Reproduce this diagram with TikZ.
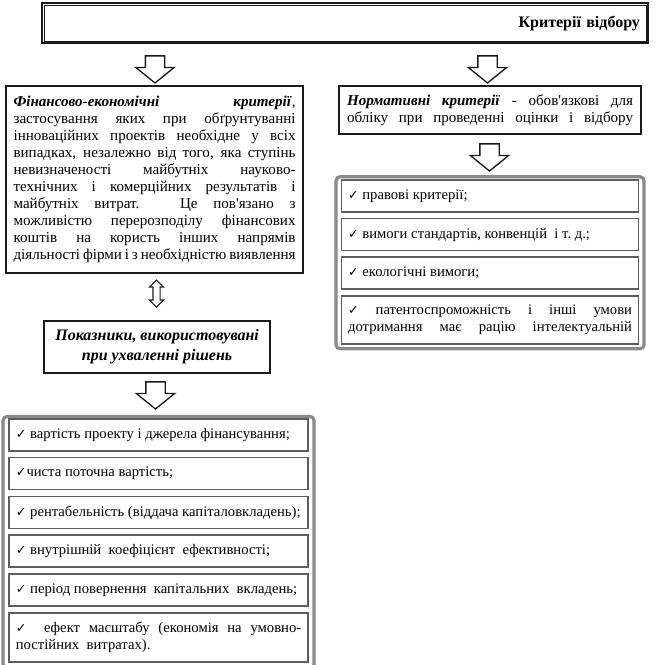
\documentclass[tikz,border=0pt]{standalone}
\usepackage{fontspec}
\setmainfont{Liberation Serif}
\newfontfamily\symfont{DejaVu Sans}
\usepackage{tikz}
\usetikzlibrary{positioning,shapes.arrows,calc}
\definecolor{Ink}{HTML}{1A1A1A}
\definecolor{Dots}{HTML}{8A8A8A}
\definecolor{Edge}{HTML}{5E5E5E}
\newcommand{\chkmark}{{\symfont\fontsize{9.5}{9.5}\selectfont ✓}}
\newcommand{\apos}{\textquotesingle}

\begin{document}
\begin{tikzpicture}[
  x=0.75pt,y=-0.75pt,
  every node/.style={font=\fontsize{11.3}{12.75}\selectfont},
  head/.style={draw=Ink,line width=1.5pt,minimum width=454.5pt,minimum height=30pt,text width=442.5pt,inner xsep=6pt,align=right,font=\fontsize{12}{14}\selectfont\bfseries},
  crit/.style={draw=Ink,line width=1.6pt,inner sep=0pt,align=justify,anchor=north west,
    execute at begin node={\parfillskip=0pt\tolerance=10000\exhyphenpenalty=10000}},
  note/.style={draw=Ink,line width=1.3pt,minimum width=169.5pt,minimum height=39pt,align=center,font=\fontsize{12}{15}\selectfont\bfseries\itshape},
  panel/.style={draw=Dots,line width=2.4pt,rounded corners=3pt},
  entry/.style={draw=Edge,line width=1.2pt,minimum height=24pt,inner sep=0pt,text width=214pt,align=justify,outer sep=0pt,
    font=\fontsize{11}{12.75}\selectfont,execute at begin node={\tolerance=10000\exhyphenpenalty=10000}},
  fatarrow/.style={single arrow,draw=Ink,fill=white,line width=1pt,shape border rotate=270,inner sep=6.75pt,
    minimum height=18.75pt,minimum width=27.75pt,single arrow head extend=7.1pt,single arrow tip angle=102},
  twoway/.style={double arrow,draw=Ink,fill=white,line width=0.8pt,shape border rotate=90,inner sep=2.25pt,
    minimum height=20.25pt,minimum width=9.75pt,double arrow head extend=2.6pt}
]
\useasboundingbox (0,0) rectangle (657,665);

% title
\node[head] (title) at (345,23) {Критерії відбору};
\draw[line width=0.6pt,draw=Ink] ([shift={(3,3)}]title.north west) rectangle ([shift={(-3,-3)}]title.south east);

% left column
\node[crit,text width=211.5pt,minimum width=222.75pt,minimum height=140.25pt] (fin) at (5,85) {%
\textbf{\textit{Фінансово-економічні критерії}},\linebreak
застосування яких при обґрунтуванні\linebreak
інноваційних проектів необхідне у всіх\linebreak
випадках, незалежно від того, яка ступінь\linebreak
невизначеності майбутніх науково-\linebreak
технічних і комерційних результатів і\linebreak
майбутніх витрат. Це пов\apos язано з\linebreak
можливістю перерозподілу фінансових\linebreak
коштів на користь інших напрямів\linebreak
діяльності фірми і з необхідністю виявлення};
\node[note,below=34.5pt of fin,xshift=1.9pt] (pok) {Показники, використовувані\\при ухваленні рішень};
\node[panel,minimum width=233.25pt,minimum height=189pt,below=30.75pt of pok,xshift=1.1pt] (fislist) {};
\node[entry,minimum width=224.25pt,below=3pt of fislist.north] (f1) {\chkmark\ вартість проекту і джерела фінансування;};
\node[entry,minimum width=224.25pt,below=5.1pt of f1] (f2) {\chkmark чиста поточна вартість;};
\node[entry,minimum width=224.25pt,below=5.1pt of f2] (f3) {\chkmark\ рентабельність (віддача капіталовкладень);};
\node[entry,minimum width=224.25pt,below=5.1pt of f3] (f4) {\chkmark\ внутрішній\ \ коефіцієнт\ \ ефективності;};
\node[entry,minimum width=224.25pt,below=5.1pt of f4] (f5) {\chkmark\ період повернення\ \ капітальних\ \ вкладень;};
\node[entry,minimum width=224.25pt,minimum height=36.75pt,below=5.1pt of f5] (f6) {\chkmark\ \ ефект масштабу (економія на умовно-\linebreak постійних\ \ витратах).};

% right column
\node[crit,text width=214.5pt,minimum width=226.5pt,minimum height=36pt] (norm) at (338,85) {%
\textbf{\textit{Нормативні критерії}} - обов\apos язкові для\linebreak
обліку при проведенні оцінки і відбору};
\node[panel,minimum width=231pt,minimum height=129pt,below=30pt of norm] (normlist) {};
\node[entry,minimum width=222.75pt,text width=213pt,below=3.75pt of normlist.north] (n1) {\chkmark\ правові критерії;};
\node[entry,minimum width=222.75pt,text width=213pt,below=4.9pt of n1] (n2) {\chkmark\ вимоги стандартів, конвенцій\ \ і т.~д.;};
\node[entry,minimum width=222.75pt,text width=213pt,below=4.9pt of n2] (n3) {\chkmark\ екологічні вимоги;};
\node[entry,minimum width=222.75pt,text width=213pt,minimum height=36pt,below=4.9pt of n3,
  execute at begin node={\parfillskip=0pt}] (n4) {\chkmark\ патентоспроможність і інші умови\linebreak дотримання має рацію інтелектуальній};

% block arrows
\node[fatarrow] (a1) at (155,65.5) {};
\node[fatarrow] (a2) at (487.5,65.5) {};
\node[fatarrow] (a3) at (489.5,153.5) {};
\node[twoway] (a4) at (156.5,293.5) {};
\node[fatarrow] (a5) at (155.5,391.5) {};
\end{tikzpicture}
\end{document}
